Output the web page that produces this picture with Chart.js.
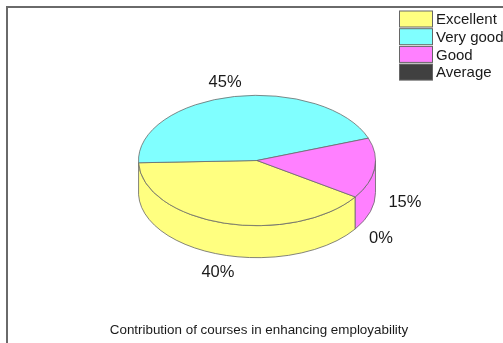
<!DOCTYPE html>
<html>
<head>
<meta charset="utf-8">
<script src="https://cdn.jsdelivr.net/npm/chart.js@4/dist/chart.umd.min.js"></script>
<style>
  html, body { margin: 0; padding: 0; background: #fff; overflow: hidden; }
  #wrap { position: relative; width: 503px; height: 343px; overflow: hidden; }
  #frame { position: absolute; left: 6px; top: 6px; width: 600px; height: 500px; border: 2px solid #6a6a6a; }
  canvas { position: absolute; left: 0; top: 0; }
</style>
</head>
<body>
<div id="wrap">
  <div id="frame"></div>
  <canvas id="pieChart" width="503" height="343"></canvas>
</div>
<script>
const categories = ["Excellent", "Very good", "Good", "Average"];
const shares = [40, 45, 15, 0];
const sliceColors = ["#ffff80", "#80ffff", "#ff80ff", "#404040"];
const chartTitle = "Contribution of courses in enhancing employability";

const squash = 0.55;
const pieCenterY = 160.5;
const pieDepth = 32;
const labelRadius = 149;
const labelNudgeX = [2, -3.5, 0, 0.5];
const labelNudgeY = [1, 2, 0, 0];
const edgeColor = "#666666";
const textColor = "#1a1a1a";
const fontFamily = "'Liberation Sans', Arial, sans-serif";

// chart.js has no tilted pie, so squash the drawn arcs and add the rim ourselves
const tiltPlugin = {
  id: "tilt",
  beforeDatasetsDraw(chart) {
    const ctx = chart.ctx;
    const arcs = chart.getDatasetMeta(0).data;
    const cx = arcs[0].x;
    const rx = arcs[0].outerRadius;
    const ry = rx * squash;

    arcs.forEach((arc, i) => {
      const from = Math.atan2(Math.sin(arc.startAngle), Math.cos(arc.startAngle));
      const sweep = arc.endAngle - arc.startAngle;
      [0, Math.PI * 2].forEach((turn) => {
        const start = Math.max(from + turn, 0);
        const end = Math.min(from + turn + sweep, Math.PI);
        if (end - start < 0.06) return;
        ctx.save();
        ctx.beginPath();
        ctx.ellipse(cx, pieCenterY, rx, ry, 0, start, end);
        ctx.ellipse(cx, pieCenterY + pieDepth, rx, ry, 0, end, start, true);
        ctx.closePath();
        ctx.fillStyle = sliceColors[i];
        ctx.fill();
        ctx.strokeStyle = edgeColor;
        ctx.lineWidth = 0.8;
        ctx.stroke();
        ctx.restore();
      });
    });

    ctx.save();
    ctx.translate(0, pieCenterY);
    ctx.scale(1, squash);
    ctx.translate(0, -arcs[0].y);
  },
  afterDatasetsDraw(chart) {
    const ctx = chart.ctx;
    ctx.restore();

    const arcs = chart.getDatasetMeta(0).data;
    ctx.save();
    ctx.fillStyle = textColor;
    ctx.textBaseline = "middle";

    // percent labels
    ctx.font = "16.5px " + fontFamily;
    ctx.textAlign = "center";
    arcs.forEach((arc, i) => {
      const mid = (arc.startAngle + arc.endAngle) / 2;
      const x = arc.x + labelRadius * Math.cos(mid) + labelNudgeX[i];
      let y = pieCenterY + labelRadius * squash * Math.sin(mid) + labelNudgeY[i];
      if (Math.sin(mid) > 0) y += pieDepth;
      ctx.fillText(shares[i] + "%", x, y);
    });

    // title sits under the pie
    ctx.font = "13.4px " + fontFamily;
    ctx.fillText(chartTitle, 259, 330);

    // legend, the built in one leaves too wide a gap after the swatch
    categories.forEach((name, i) => {
      const top = 11 + i * 17.7;
      ctx.fillStyle = sliceColors[i];
      ctx.fillRect(399.5, top, 33, 16);
      ctx.strokeStyle = edgeColor;
      ctx.lineWidth = 1;
      ctx.strokeRect(399.5, top, 33, 16);
      ctx.fillStyle = textColor;
      ctx.font = "15px " + fontFamily;
      ctx.textAlign = "left";
      ctx.fillText(name, 436, top + 9);
    });
    ctx.restore();
  }
};

new Chart(document.getElementById("pieChart"), {
  type: "pie",
  data: {
    labels: categories,
    datasets: [{
      data: shares,
      backgroundColor: sliceColors,
      borderColor: edgeColor,
      borderWidth: 1,
      hoverOffset: 0
    }]
  },
  options: {
    responsive: false,
    animation: false,
    rotation: 124,
    layout: { padding: { left: 120, top: 10, right: 109, bottom: 95 } },
    plugins: {
      tooltip: { enabled: false },
      legend: { display: false }
    }
  },
  plugins: [tiltPlugin]
});
</script>
</body>
</html>
